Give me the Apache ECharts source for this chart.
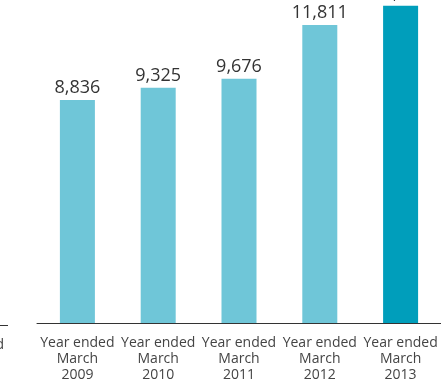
<!DOCTYPE html>
<html>
<head>
<meta charset="utf-8">
<script src="https://cdn.jsdelivr.net/npm/echarts@6/dist/echarts.min.js"></script>
<style>
html,body{margin:0;padding:0;background:#fff;}
#c{width:441px;height:383px;}
</style>
</head>
<body>
<div id="c"></div>
<script>
const categories = ['Year ended\nMarch\n2009','Year ended\nMarch\n2010','Year ended\nMarch\n2011','Year ended\nMarch\n2012','Year ended\nMarch\n2013'];
const values = [8836, 9325, 9676, 11811, 12570];
const barColors = ['#6fc6d8','#6fc6d8','#6fc6d8','#6fc6d8','#009ebb'];

const chart = echarts.init(document.getElementById('c'), null, {renderer:'canvas'});
chart.setOption({
  animation:false,
  grid:{left:37, right:-4.75, top:0, bottom:57.5, containLabel:false},
  xAxis:{
    type:'category',
    data:categories,
    axisLine:{show:true, lineStyle:{color:'#333', width:1}},
    axisTick:{show:false},
    axisLabel:{color:'#444', fontFamily:'Open Sans', fontSize:14, lineHeight:16, margin:12, interval:0}
  },
  yAxis:{type:'value', min:0, max:12800, show:false, splitLine:{show:false}},
  series:[{
    type:'bar',
    barWidth:35,
    data:values.map((v,i)=>({value:v, itemStyle:{color:barColors[i]}})),
    label:{show:true, position:'top', distance:3, color:'#333', fontFamily:'Open Sans', fontSize:18,
      formatter:p=>p.value.toLocaleString('en-US')}
  }],
  graphic:[
    {type:'line', shape:{x1:0,y1:325.5,x2:8,y2:325.5}, style:{stroke:'#333', lineWidth:1}},
    {type:'text', x:-33, y:337, style:{text:'Year ended\nMarch\n2008', fill:'#444', font:'14px "Open Sans"', lineHeight:16, align:'center', verticalAlign:'top'}}
  ]
});
</script>
</body>
</html>
